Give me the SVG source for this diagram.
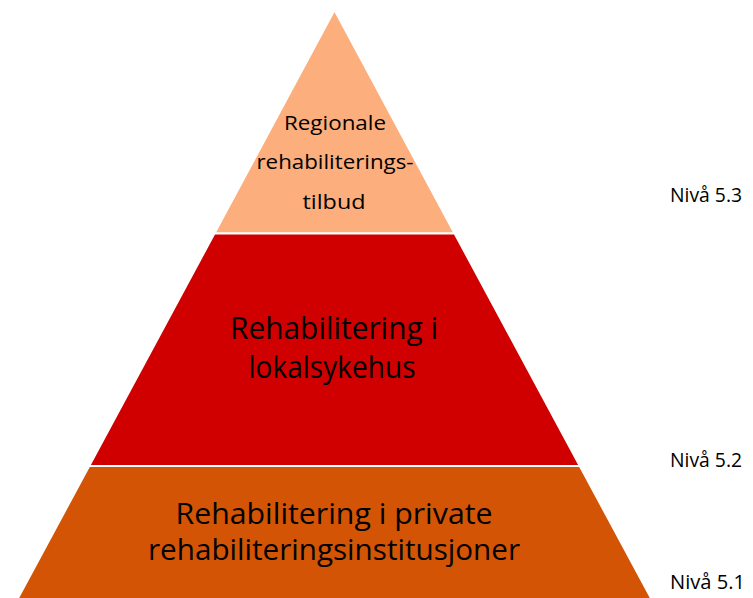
<svg xmlns="http://www.w3.org/2000/svg" width="753" height="598" viewBox="0 0 753 598">
  <style>
    .tier { stroke: #FFFFFF; stroke-width: 2; stroke-linejoin: miter; }
    .t { font-family: "Open Sans", "Liberation Sans", Arial, sans-serif; fill: #000000; text-anchor: middle; }
    .lvl { font-family: "Open Sans", "Liberation Sans", Arial, sans-serif; fill: #000000; font-size: 20px; }
  </style>
  <rect width="753" height="598" fill="#FFFFFF"/>
  <g id="tier-top">
    <polygon class="tier" points="334.5,10 454.6,233.5 214.4,233.5" fill="#FCAE7C"/>
    <text class="t" x="335" y="130" font-size="20" textLength="102" lengthAdjust="spacingAndGlyphs">Regionale</text>
    <text class="t" x="335" y="169" font-size="20" textLength="157" lengthAdjust="spacingAndGlyphs">rehabiliterings-</text>
    <text class="t" x="334" y="209" font-size="20" textLength="63" lengthAdjust="spacingAndGlyphs">tilbud</text>
  </g>
  <g id="tier-middle">
    <polygon class="tier" points="214.4,233.5 454.6,233.5 579.8,466 89.2,466" fill="#D10000"/>
    <text class="t" x="334" y="339" font-size="31" textLength="208" lengthAdjust="spacingAndGlyphs">Rehabilitering i</text>
    <text class="t" x="332" y="378" font-size="31" textLength="167" lengthAdjust="spacingAndGlyphs">lokalsykehus</text>
  </g>
  <g id="tier-bottom">
    <polygon class="tier" points="89.2,466 579.8,466 652,600 17,600" fill="#D35405"/>
    <text class="t" x="334" y="524" font-size="30" textLength="317" lengthAdjust="spacingAndGlyphs">Rehabilitering i private</text>
    <text class="t" x="334" y="560" font-size="30" textLength="372" lengthAdjust="spacingAndGlyphs">rehabiliteringsinstitusjoner</text>
  </g>
  <g id="levels">
    <text class="lvl" x="670" y="202" textLength="72" lengthAdjust="spacingAndGlyphs">Nivå 5.3</text>
    <text class="lvl" x="670" y="467" textLength="72" lengthAdjust="spacingAndGlyphs">Nivå 5.2</text>
    <text class="lvl" x="670" y="589" textLength="75" lengthAdjust="spacingAndGlyphs">Nivå 5.1</text>
  </g>
</svg>
